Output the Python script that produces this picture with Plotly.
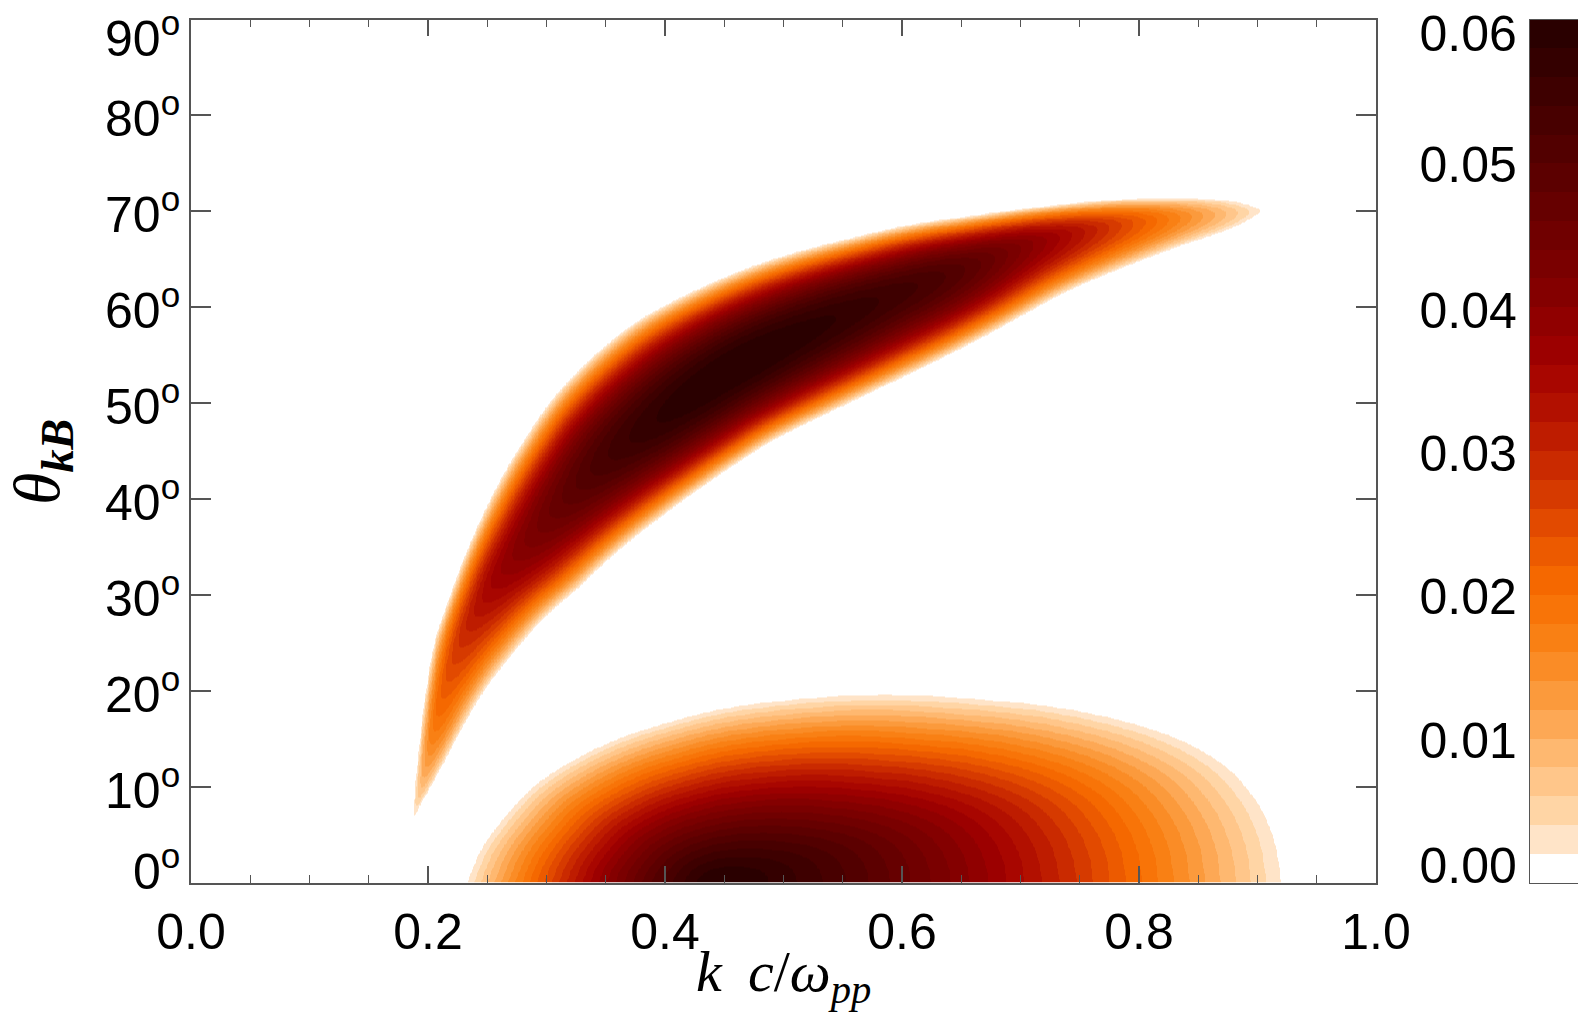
import numpy as np
import plotly.graph_objects as go

# ---------------- tick labels ----------------
k_tick_vals = [0.0, 0.2, 0.4, 0.6, 0.8, 1.0]
k_tick_text = ["0.0", "0.2", "0.4", "0.6", "0.8", "1.0"]
theta_tick_vals = [0, 10, 20, 30, 40, 50, 60, 70, 80, 90]
theta_label_pos = [1.56, 10, 20, 30, 40, 50, 60, 70, 80, 88.35]
theta_tick_text = ["0<sup>o</sup>", "10<sup>o</sup>", "20<sup>o</sup>", "30<sup>o</sup>", "40<sup>o</sup>",
                   "50<sup>o</sup>", "60<sup>o</sup>", "70<sup>o</sup>", "80<sup>o</sup>", "90<sup>o</sup>"]
cbar_tick_vals = [0.0012, 0.0099, 0.0199, 0.0298, 0.0398, 0.0499, 0.0590]
cbar_tick_text = ["0.00", "0.01", "0.02", "0.03", "0.04", "0.05", "0.06"]

# ---------------- contour levels (growth rate) ----------------
level_step = 0.002
level_max = 0.06
band_colors = ["#ffffff", "#ffe4c8", "#ffd5a5", "#ffc68a", "#feb870", "#fda855", "#fb9a3c", "#fa8c26",
               "#f98014", "#f87408", "#f56800", "#ec5a00", "#e24a00", "#d63a00", "#ca2a00", "#be1c00",
               "#b21000", "#a80600", "#9c0000", "#900000", "#840000", "#7a0000", "#700000", "#660000",
               "#5c0000", "#520000", "#480000", "#3e0000", "#340000", "#2a0000"]

# ---------------- oblique branch ----------------
ridge_k = [0.186, 0.196, 0.205, 0.216, 0.233, 0.258, 0.293, 0.345, 0.400, 0.460, 0.520, 0.580,
           0.645, 0.716, 0.800, 0.912]
ridge_theta = [6.0, 11.0, 15.8, 21.0, 26.3, 31.5, 36.7, 43.5, 48.8, 53.8, 57.6, 60.8,
               63.8, 66.9, 68.9, 70.2]
ridge_gamma = [0.000, 0.010, 0.018, 0.024, 0.030, 0.037, 0.044, 0.053, 0.0585, 0.0605, 0.059, 0.056,
               0.051, 0.039, 0.023, 0.000]

upper_edge_k = [0.186, 0.188, 0.192, 0.197, 0.204, 0.217, 0.231, 0.249, 0.272, 0.300, 0.343, 0.396,
                0.480, 0.565, 0.640, 0.773, 0.857, 0.894, 0.908]
upper_edge_theta = [6.5, 10.0, 15.0, 20.0, 25.0, 30.0, 35.0, 40.0, 45.0, 50.2, 55.6, 60.2,
                    64.8, 67.7, 69.5, 71.3, 71.5, 71.0, 70.1]
lower_edge_k = [0.186, 0.206, 0.229, 0.250, 0.290, 0.322, 0.352, 0.383, 0.418, 0.465, 0.508, 0.649,
                0.744, 0.829, 0.885, 0.908]
lower_edge_theta = [6.5, 10.6, 15.8, 20.0, 26.3, 30.0, 33.5, 36.7, 40.0, 44.0, 47.1, 55.5,
                    61.7, 65.9, 68.3, 70.0]

# ---------------- parallel lobe ----------------
lobe_peak_k = 0.445
lobe_peak_gamma = 0.0605
lobe_edge_k = [0.932, 0.926, 0.910, 0.880, 0.830, 0.760, 0.684, 0.578, 0.467, 0.394, 0.341, 0.292,
               0.263, 0.240, 0.227]
lobe_edge_theta = [0.0, 4.5, 8.8, 12.8, 16.0, 18.3, 19.5, 20.1, 19.0, 16.9, 14.5, 11.0,
                   7.5, 3.7, 0.0]

# ---------------- build the gridded table ----------------
SX = 1185.0          # isotropic scaling used for distances
SY = 863.0 / 90.0
kg = np.linspace(0.0, 1.0, 841)
tg = np.linspace(0.0, 90.0, 621)
K, T = np.meshgrid(kg, tg)
GX, GY = K * SX, T * SY


def catmull(cols, n=14):
    """Smooth (Catmull-Rom) densification of a polyline whose columns are given in cols."""
    P = np.stack([np.asarray(c, float) for c in cols], axis=1)
    P = np.vstack([2 * P[0] - P[1], P, 2 * P[-1] - P[-2]])
    out = []
    for i in range(1, len(P) - 2):
        p0, p1, p2, p3 = P[i - 1], P[i], P[i + 1], P[i + 2]
        for s in np.linspace(0, 1, n, endpoint=False):
            s2, s3 = s * s, s * s * s
            out.append(0.5 * ((2 * p1) + (-p0 + p2) * s + (2 * p0 - 5 * p1 + 4 * p2 - p3) * s2
                              + (-p0 + 3 * p1 - 3 * p2 + p3) * s3))
    out.append(P[-2])
    return np.array(out)


def seg_project(px, py, ax, ay, bx, by):
    dx, dy = bx - ax, by - ay
    L2 = dx * dx + dy * dy + 1e-12
    t = np.clip(((px - ax) * dx + (py - ay) * dy) / L2, 0.0, 1.0)
    qx, qy = ax + t * dx, ay + t * dy
    d2 = (px - qx) ** 2 + (py - qy) ** 2
    cross = dx * (py - ay) - dy * (px - ax)
    return t, d2, cross


def dist_to_polyline(px, py, xs, ys):
    best = np.full(np.shape(px), np.inf)
    for j in range(len(xs) - 1):
        _, d2, _ = seg_project(px, py, xs[j], ys[j], xs[j + 1], ys[j + 1])
        best = np.minimum(best, d2)
    return np.sqrt(best)


R = catmull([np.array(ridge_k) * SX, np.array(ridge_theta) * SY, ridge_gamma], n=12)
RX, RY, RG = R[:, 0], R[:, 1], np.clip(R[:, 2], 0, None)
U = catmull([np.array(upper_edge_k) * SX, np.array(upper_edge_theta) * SY], n=10)
L = catmull([np.array(lower_edge_k) * SX, np.array(lower_edge_theta) * SY], n=10)
dU = np.maximum(dist_to_polyline(RX, RY, U[:, 0], U[:, 1]), 3.0)
dD = np.maximum(dist_to_polyline(RX, RY, L[:, 0], L[:, 1]), 3.0)

best_d2 = np.full(GX.shape, np.inf)
best_t = np.zeros(GX.shape)
best_j = np.zeros(GX.shape, dtype=int)
best_c = np.zeros(GX.shape)
for j in range(len(RX) - 1):
    t, d2, cr = seg_project(GX, GY, RX[j], RY[j], RX[j + 1], RY[j + 1])
    m = d2 < best_d2
    best_d2[m] = d2[m]
    best_t[m] = t[m]
    best_j[m] = j
    best_c[m] = cr[m]

gm = RG[best_j] + best_t * (RG[best_j + 1] - RG[best_j])
wu = dU[best_j] + best_t * (dU[best_j + 1] - dU[best_j])
wd = dD[best_j] + best_t * (dD[best_j + 1] - dD[best_j])
s = np.sqrt(best_d2)
u = np.where(best_c > 0, s / wu, s / wd)
g_oblique = np.clip(gm * (1.0 - u ** 2), 0.0, None)

E = catmull([(np.array(lobe_edge_k) - lobe_peak_k) * SX, np.array(lobe_edge_theta) * SY], n=16)
phi = np.arctan2(np.maximum(E[:, 1], 0), E[:, 0])
rad = np.hypot(E[:, 0], E[:, 1])
order = np.argsort(phi)
phi, rad = phi[order], rad[order]
gphi = np.arctan2(GY, GX - lobe_peak_k * SX)
grad = np.hypot(GX - lobe_peak_k * SX, GY)
r = grad / np.interp(gphi, phi, rad)
g_lobe = np.clip(lobe_peak_gamma * (1.0 - r ** 1.3), 0.0, None)

Z = np.maximum(g_oblique, g_lobe).astype(np.float32)

# ---------------- discrete colour scale ----------------
nb = len(band_colors)
colorscale = []
for i, c in enumerate(band_colors):
    colorscale.append([i / nb, c])
    colorscale.append([(i + 1) / nb, c])

band_mid = [level_step * (i + 0.5) for i in range(nb)]

fig = go.Figure()
fig.add_trace(go.Heatmap(x=kg, y=tg, z=Z, zmin=0, zmax=level_max, colorscale=colorscale,
                         showscale=False, zsmooth="best", hoverinfo="skip"))
fig.add_trace(go.Heatmap(x=[0.5], y=band_mid, z=[[v] for v in band_mid], zmin=0, zmax=level_max,
                         colorscale=colorscale, showscale=False, xaxis="x2", yaxis="y2", hoverinfo="skip"))

W, H = 1578, 1017
x_left, x_right = 191, 1376
y_top, y_bot = 19.5, 882.5
xd = [x_left / W, x_right / W]
yd = [(H - y_bot) / H, (H - y_top) / H]
axis_col = "#555555"
tick_font = dict(family="Liberation Sans, Arial, sans-serif", size=50, color="black")
title_font = dict(family="Liberation Serif, Times New Roman, serif", size=58, color="black")

annotations = [
    dict(text="<i>k</i> \u2009<i>c</i>/<i>ω</i><sub><i>pp</i></sub>", x=783.5 / W, y=(H - 975) / H,
         xref="paper", yref="paper", showarrow=False, xanchor="center", yanchor="middle", font=title_font),
    dict(text="<i>θ</i><sub><b><i>kB</i></b></sub>", x=42 / W, y=(H - 462) / H, textangle=-90,
         xref="paper", yref="paper", showarrow=False, xanchor="center", yanchor="middle",
         font=dict(family="Liberation Serif, Times New Roman, serif", size=66, color="black")),
]
for pos, txt in zip(theta_label_pos, theta_tick_text):
    annotations.append(dict(text=txt, x=x_left / W, xref="paper", y=pos, yref="y", xanchor="right",
                            yanchor="middle", xshift=-9, showarrow=False, font=tick_font))

fig.update_layout(
    width=W, height=H, margin=dict(l=0, r=0, t=0, b=0, autoexpand=False),
    paper_bgcolor="white", plot_bgcolor="white", showlegend=False,
    xaxis=dict(domain=xd, range=[0, 1], tickvals=k_tick_vals, ticktext=k_tick_text, automargin=False,
               ticks="inside", ticklen=17, tickwidth=1.5, tickcolor=axis_col,
               minor=dict(dtick=0.05, tick0=0, ticks="inside", ticklen=8, tickwidth=1.2, tickcolor=axis_col),
               showline=True, linecolor=axis_col, linewidth=1.5, mirror="ticks",
               showgrid=False, zeroline=False, tickfont=tick_font, ticklabelstandoff=5,
               ticklabeloverflow="allow"),
    yaxis=dict(domain=yd, range=[0, 90], tickvals=theta_tick_vals, showticklabels=False, automargin=False,
               ticks="inside", ticklen=20, tickwidth=1.5, tickcolor=axis_col,
               showline=True, linecolor=axis_col, linewidth=1.5, mirror="ticks",
               showgrid=False, zeroline=False),
    xaxis2=dict(domain=[1530 / W, 1.0], range=[0, 1], anchor="y2", showticklabels=False, ticks="",
                showline=True, linecolor=axis_col, linewidth=1.2, mirror=True, automargin=False,
                showgrid=False, zeroline=False),
    yaxis2=dict(domain=yd, range=[0, level_max], anchor="x2", tickvals=cbar_tick_vals, automargin=False,
                ticktext=cbar_tick_text, ticks="", showline=True, linecolor=axis_col, linewidth=1.2,
                mirror=True, showgrid=False, zeroline=False, tickfont=tick_font, ticklabelstandoff=2,
                ticklabeloverflow="allow"),
    annotations=annotations,
)

fig.write_html("out.html", config={"displayModeBar": False},
               post_script="document.body.style.margin='0px';document.body.style.overflow='hidden';")
